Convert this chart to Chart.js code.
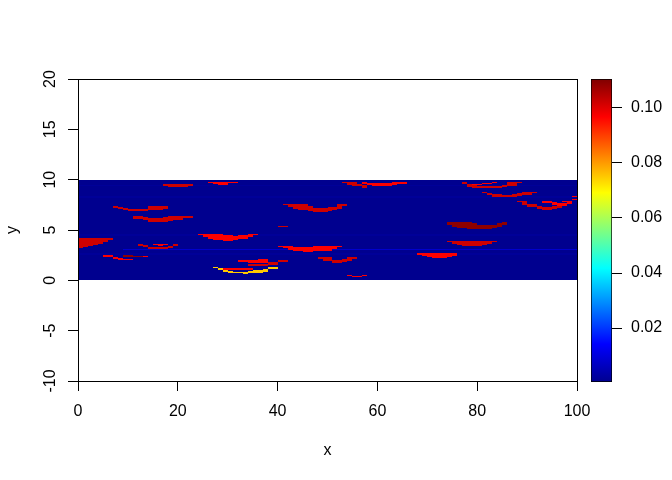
<!DOCTYPE html>
<html>
<head>
<meta charset="utf-8">
<script src="https://cdn.jsdelivr.net/npm/chart.js@4.4.1/dist/chart.umd.min.js"></script>
<style>
  html, body { margin: 0; padding: 0; background: #fff; }
  #wrap { position: relative; width: 672px; height: 480px; }
  #wrap canvas { position: absolute; left: 0; top: 0; }
</style>
</head>
<body>
<div id="wrap">
  <canvas id="heatChart" width="672" height="480"></canvas>
  <canvas id="legendChart" width="672" height="480"></canvas>
</div>
<script>
// axes
const xTicks = [0, 20, 40, 60, 80, 100];
const yTicks = [-10, -5, 0, 5, 10, 15, 20];
const legendTicks = [0.02, 0.04, 0.06, 0.08, 0.10];
const legendRange = [0.0004, 0.1105];

// z value of each group of cells
const backgroundValue = 0.0004;
const bandValue = 0.0015;
const stripeValue = 0.008;
const yellowValue = 0.075;
const redValue = 0.097;
const darkRedValue = 0.102;
const maroonValue = 0.109;

// cells as [x0, x1, y0, y1]
const backgroundCells = [[0, 100, 0, 10]];
const bandCells = [[0, 100, 9.35, 9.5], [0, 100, 8.2, 8.35], [0, 100, 4.45, 4.6], [0, 100, 2.55, 2.7]];
const stripeCells = [[9, 100, 3.0, 3.15]];

const yellowCells = [
  [27, 28, 1.2, 1.3], [28, 29, 1.03, 1.2], [29, 30, 0.87, 1.03], [30, 31, 0.77, 0.97],
  [31, 33, 0.7, 0.83], [33, 34, 0.63, 0.83], [34, 35, 0.73, 0.9], [35, 37, 0.77, 1.0],
  [37, 38, 0.87, 1.17], [38, 40, 1.1, 1.3]
];

const redCells = [
  [15, 18, 3.5, 3.63], [16, 17, 3.4, 3.53],
  [5, 7, 2.27, 2.5], [7, 8, 2.15, 2.3], [8, 9, 2.05, 2.25], [9, 11, 2.05, 2.15], [13, 14, 2.33, 2.43],
  [26, 27, 9.7, 9.8], [27, 28, 9.6, 9.8], [28, 30, 9.5, 9.8], [30, 31, 9.63, 9.8], [31, 32, 9.7, 9.8],
  [24, 25, 4.5, 4.6], [25, 26, 4.27, 4.6], [26, 27, 4.1, 4.6], [27, 29, 4.0, 4.6], [29, 31, 3.93, 4.47],
  [31, 32, 4.0, 4.43], [32, 34, 4.1, 4.53], [34, 35, 4.27, 4.6], [35, 36, 4.5, 4.6],
  [40, 41, 3.3, 3.43], [41, 42, 3.2, 3.43], [42, 43, 3.03, 3.37], [43, 45, 2.93, 3.3],
  [45, 47, 2.8, 3.3], [47, 51, 2.93, 3.43], [51, 52, 3.13, 3.43], [52, 53, 3.3, 3.43],
  [32, 34, 1.85, 2.0], [34, 36, 1.75, 2.0], [36, 38, 1.75, 2.07], [29, 35, 1.03, 1.27],
  [57, 58, 9.53, 9.8], [58, 59, 9.47, 9.7], [59, 63, 9.37, 9.7], [63, 64, 9.47, 9.8], [64, 66, 9.6, 9.8],
  [68, 69, 2.53, 2.7], [69, 70, 2.43, 2.7], [70, 71, 2.3, 2.7], [71, 74, 2.2, 2.7], [74, 75, 2.3, 2.7], [75, 76, 2.4, 2.7],
  [54, 55, 0.43, 0.5], [55, 57, 0.3, 0.43], [57, 58, 0.43, 0.5],
  [79, 81, 9.47, 9.6], [81, 83, 9.53, 9.7], [83, 84, 9.63, 9.73],
  [99, 100, 8.27, 8.35], [99, 100, 7.97, 8.05],
  [93, 95, 7.7, 7.93], [95, 96, 7.53, 7.8], [96, 98, 7.37, 7.7], [97, 99, 7.8, 7.93], [98, 99, 7.63, 7.75]
];

const darkRedCells = [
  [17, 18, 9.33, 9.53], [18, 22, 9.3, 9.53], [22, 23, 9.33, 9.53],
  [7, 8, 7.2, 7.4], [8, 9, 7.05, 7.25], [9, 10, 6.95, 7.15], [10, 13, 6.85, 7.1], [13, 14, 6.9, 7.1],
  [14, 15, 6.95, 7.4], [15, 17, 7.0, 7.4], [17, 18, 7.1, 7.4],
  [11, 13, 6.1, 6.43], [13, 14, 5.95, 6.33], [14, 17, 5.75, 6.23], [17, 18, 5.75, 6.33],
  [18, 19, 5.85, 6.43], [19, 21, 5.95, 6.43], [21, 23, 6.2, 6.43],
  [0, 1, 3.2, 4.2], [1, 2, 3.3, 4.2], [2, 3, 3.4, 4.2], [3, 4, 3.53, 4.2], [4, 5, 3.63, 4.2],
  [5, 6, 3.83, 4.2], [6, 7, 4.0, 4.2],
  [12, 13, 3.43, 3.63], [13, 14, 3.27, 3.53], [14, 18, 3.13, 3.33], [18, 19, 3.2, 3.43], [19, 20, 3.43, 3.63],
  [41, 42, 7.47, 7.6], [42, 43, 7.27, 7.6], [43, 44, 7.1, 7.6], [44, 46, 6.97, 7.6], [46, 47, 6.87, 7.37],
  [47, 50, 6.75, 7.2], [50, 51, 6.87, 7.27], [51, 52, 7.0, 7.3], [52, 53, 7.13, 7.6], [53, 54, 7.37, 7.6],
  [40, 42, 5.25, 5.35],
  [48, 49, 2.13, 2.3], [49, 51, 1.9, 2.3], [51, 53, 1.7, 2.03], [53, 54, 1.87, 2.1], [54, 55, 1.93, 2.27], [55, 56, 2.13, 2.3],
  [34, 38, 1.47, 1.67], [38, 40, 1.5, 1.83], [40, 42, 1.8, 2.03],
  [53, 54, 9.7, 9.8], [54, 56, 9.47, 9.8], [55, 57, 9.37, 9.6], [57, 58, 9.2, 9.47],
  [77, 78, 9.53, 9.73], [78, 79, 9.3, 9.6], [79, 80, 9.2, 9.47], [80, 83, 9.13, 9.33], [83, 85, 9.2, 9.37],
  [85, 86, 9.27, 9.47], [86, 88, 9.4, 9.73], [88, 89, 9.63, 9.73],
  [81, 82, 8.63, 8.73], [82, 83, 8.43, 8.63], [83, 85, 8.3, 8.53], [85, 87, 8.23, 8.43], [87, 88, 8.3, 8.53],
  [88, 89, 8.37, 8.63], [89, 91, 8.43, 8.73], [91, 92, 8.63, 8.73],
  [88, 89, 7.8, 7.93], [89, 90, 7.53, 7.93], [90, 92, 7.27, 7.6], [92, 93, 7.13, 7.43], [93, 95, 7.03, 7.3],
  [95, 96, 7.13, 7.37], [96, 97, 7.2, 7.43],
  [74, 75, 3.83, 3.93], [75, 76, 3.63, 3.93], [76, 77, 3.53, 3.93], [77, 81, 3.43, 3.93], [81, 82, 3.53, 3.93],
  [82, 83, 3.63, 3.93], [83, 84, 3.83, 3.93]
];

const maroonCells = [
  [9, 11, 2.33, 2.5], [11, 13, 2.27, 2.43],
  [74, 75, 5.5, 5.83], [75, 76, 5.33, 5.83], [76, 78, 5.17, 5.83], [78, 79, 5.07, 5.83], [79, 80, 5.07, 5.67],
  [80, 83, 5.07, 5.5], [83, 84, 5.17, 5.5], [84, 85, 5.33, 5.67], [85, 86, 5.5, 5.83]
];

// colour ramp (tim.colors style)
const rampStops = [
  [0, [0, 0, 143]], [0.125, [0, 0, 255]], [0.375, [0, 255, 255]],
  [0.625, [255, 255, 0]], [0.875, [255, 0, 0]], [1, [128, 0, 0]]
];

function colorFor(v) {
  let f = (v - legendRange[0]) / (legendRange[1] - legendRange[0]);
  f = Math.max(0, Math.min(1, f));
  for (let i = 1; i < rampStops.length; i++) {
    const a = rampStops[i - 1], b = rampStops[i];
    if (f <= b[0]) {
      const t = (f - a[0]) / (b[0] - a[0]);
      const c = a[1].map((ch, k) => Math.round(ch + (b[1][k] - ch) * t));
      return 'rgb(' + c.join(',') + ')';
    }
  }
  return 'rgb(128,0,0)';
}

const cellGroups = [
  { cells: backgroundCells, value: backgroundValue },
  { cells: bandCells, value: bandValue },
  { cells: stripeCells, value: stripeValue },
  { cells: yellowCells, value: yellowValue },
  { cells: redCells, value: redValue },
  { cells: darkRedCells, value: darkRedValue },
  { cells: maroonCells, value: maroonValue }
];

const fontSize = 16;
Chart.defaults.font.family = "'Liberation Sans', Arial, sans-serif";
Chart.defaults.font.size = fontSize;
Chart.defaults.color = '#000';

const heatmapPlugin = {
  id: 'heatmap',
  beforeDatasetsDraw(chart) {
    const { ctx, chartArea } = chart;
    const xs = chart.scales.x, ys = chart.scales.y;
    ctx.save();
    ctx.beginPath();
    ctx.rect(chartArea.left, chartArea.top, chartArea.width, chartArea.height);
    ctx.clip();
    cellGroups.forEach(g => {
      ctx.fillStyle = colorFor(g.value);
      g.cells.forEach(c => {
        const x0 = Math.round(xs.getPixelForValue(c[0]));
        const x1 = Math.round(xs.getPixelForValue(c[1]));
        const y0 = Math.round(ys.getPixelForValue(c[2]));
        const y1 = Math.round(ys.getPixelForValue(c[3]));
        ctx.fillRect(x0, y1, x1 - x0, Math.max(1, y0 - y1));
      });
    });
    ctx.restore();
  },
  afterDraw(chart) {
    const { ctx, chartArea } = chart;
    const ys = chart.scales.y;
    ctx.save();
    // box round the plot
    ctx.strokeStyle = '#000';
    ctx.lineWidth = 1;
    ctx.strokeRect(Math.round(chartArea.left) + 0.5, Math.round(chartArea.top) + 0.5,
      Math.round(chartArea.width), Math.round(chartArea.height));
    // y tick labels, turned like R does
    ctx.fillStyle = '#000';
    ctx.font = fontSize + "px 'Liberation Sans', Arial, sans-serif";
    ctx.textAlign = 'center';
    ctx.textBaseline = 'middle';
    yTicks.forEach(v => {
      ctx.save();
      ctx.translate(50.5, ys.getPixelForValue(v));
      ctx.rotate(-Math.PI / 2);
      ctx.fillText(String(v), 0, 0);
      ctx.restore();
    });
    ctx.restore();
  }
};

new Chart(document.getElementById('heatChart'), {
  type: 'scatter',
  data: { datasets: [{ data: [] }] },
  options: {
    responsive: false,
    animation: false,
    events: [],
    layout: { padding: { left: 0, top: 79, right: 95, bottom: 0 } },
    plugins: { legend: { display: false }, tooltip: { enabled: false } },
    scales: {
      x: {
        type: 'linear', min: 0, max: 100,
        afterBuildTicks: s => { s.ticks = xTicks.map(v => ({ value: v })); },
        afterFit: s => { s.height = 99; },
        grid: { drawOnChartArea: false, drawTicks: true, tickLength: 10, color: '#000' },
        border: { display: false },
        ticks: { padding: 11, maxRotation: 0, autoSkip: false },
        title: { display: true, text: 'x', padding: { top: 0, bottom: 20 } }
      },
      y: {
        type: 'linear', min: -10, max: 20,
        afterBuildTicks: s => { s.ticks = yTicks.map(v => ({ value: v })); },
        afterFit: s => { s.width = 78; },
        grid: { drawOnChartArea: false, drawTicks: true, tickLength: 10, color: '#000' },
        border: { display: false },
        ticks: { color: 'rgba(0,0,0,0)', autoSkip: false },
        title: { display: true, text: 'y', padding: { top: 3, bottom: 0 } }
      }
    }
  },
  plugins: [heatmapPlugin]
});

new Chart(document.getElementById('legendChart'), {
  type: 'bar',
  data: {
    labels: [''],
    datasets: [{
      data: [legendRange],
      backgroundColor: ctx => {
        const area = ctx.chart.chartArea;
        if (!area) return colorFor(legendRange[0]);
        const g = ctx.chart.ctx.createLinearGradient(0, area.bottom, 0, area.top);
        rampStops.forEach(s => g.addColorStop(s[0], 'rgb(' + s[1].join(',') + ')'));
        return g;
      },
      borderColor: '#000',
      borderWidth: 1,
      borderSkipped: false,
      barPercentage: 1,
      categoryPercentage: 1
    }]
  },
  options: {
    responsive: false,
    animation: false,
    events: [],
    layout: { padding: { left: 591, top: 79, right: 0, bottom: 98 } },
    plugins: { legend: { display: false }, tooltip: { enabled: false } },
    scales: {
      x: { display: false },
      y: {
        position: 'right',
        min: legendRange[0], max: legendRange[1],
        afterBuildTicks: s => { s.ticks = legendTicks.map(v => ({ value: v })); },
        afterFit: s => { s.width = 60; },
        grid: { drawOnChartArea: false, drawTicks: true, tickLength: 10, color: '#000' },
        border: { display: false },
        ticks: { padding: 9, callback: v => v.toFixed(2) }
      }
    }
  }
});
</script>
</body>
</html>
